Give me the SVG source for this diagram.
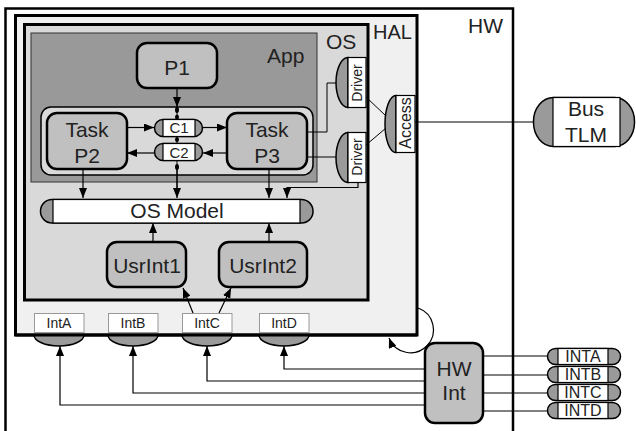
<svg xmlns="http://www.w3.org/2000/svg" width="636" height="431" viewBox="0 0 636 431">
<style>
text{font-family:"Liberation Sans",Arial,sans-serif;fill:#222}
.frame{fill:none;stroke:#000;stroke-width:2.5}
.box{fill:#c0c0c0;stroke:#000;stroke-width:2.5}
.end{fill:#9a9a9a;stroke:#000;stroke-width:1.5}
.mid{fill:#fff;stroke:#000;stroke-width:1.2}
.ln{fill:none;stroke:#000;stroke-width:1}
.lnh{fill:none;stroke:#000;stroke-width:1.2;marker-end:url(#ah)}
.dot{fill:#000}
.c{text-anchor:middle}
</style>
<defs>
<marker id="ah" markerWidth="10" markerHeight="8" refX="10" refY="4" orient="auto" markerUnits="userSpaceOnUse">
<path d="M0,0 L10,4 L0,8 z" fill="#000"/>
</marker>
</defs>
<rect width="636" height="431" fill="#fff"/>

<g id="hw">
<rect x="5.5" y="8.5" width="507.5" height="440" fill="#fff" stroke="#000" stroke-width="2.5"/>
<text x="468" y="33" font-size="21">HW</text>
</g>

<g id="hal">
<rect x="15.5" y="15.5" width="401.5" height="319.5" fill="#f0f0f0" stroke="#000" stroke-width="3"/>
<text x="373" y="39" font-size="20">HAL</text>
</g>

<g id="os">
<rect x="24.5" y="24.5" width="343.5" height="275.5" fill="#d9d9d9" stroke="#000" stroke-width="3"/>
<text x="326" y="49" font-size="21">OS</text>
</g>

<g id="app">
<rect x="31" y="33" width="286" height="149" fill="#999" stroke="#333" stroke-width="1"/>
<text x="267" y="63" font-size="21">App</text>
</g>

<g id="p1">
<rect x="137" y="43" width="80" height="45" rx="10" class="box" stroke-width="2"/>
<text x="177" y="75" font-size="21" class="c">P1</text>
</g>

<g id="tasks">
<rect x="41" y="107" width="272" height="68" rx="10" fill="#d9d9d9" stroke="#000" stroke-width="1.5"/>
</g>

<g id="p2">
<rect x="47" y="113" width="80" height="56" rx="10" class="box" stroke-width="2"/>
<text x="87" y="137" font-size="21" class="c">Task</text>
<text x="87" y="163" font-size="21" class="c">P2</text>
</g>

<g id="p3">
<rect x="227" y="113" width="80" height="56" rx="10" class="box" stroke-width="2"/>
<text x="267" y="137" font-size="21" class="c">Task</text>
<text x="267" y="163" font-size="21" class="c">P3</text>
</g>

<g id="c1">
<rect x="154.5" y="119.5" width="48" height="17" rx="8.5" class="end"/>
<rect x="163" y="119.5" width="32" height="17" class="mid"/>
<text x="179" y="133" font-size="15" class="c">C1</text>
</g>

<g id="c2">
<rect x="154.5" y="143.5" width="48" height="17" rx="8.5" class="end"/>
<rect x="163" y="143.5" width="32" height="17" class="mid"/>
<text x="179" y="158" font-size="15" class="c">C2</text>
</g>

<g id="osmodel">
<rect x="40.5" y="199.5" width="272.5" height="23.5" rx="11.5" class="end"/>
<rect x="53" y="199.5" width="247" height="23.5" class="mid"/>
<text x="177" y="218" font-size="21" class="c">OS Model</text>
</g>

<g id="usrint1">
<rect x="107" y="242" width="79" height="45" rx="10" class="box"/>
<text x="147" y="273" font-size="21" class="c">UsrInt1</text>
</g>

<g id="usrint2">
<rect x="219" y="242" width="88" height="45" rx="10" class="box"/>
<text x="263" y="273" font-size="21" class="c">UsrInt2</text>
</g>

<g id="driver1">
<path d="M348,57.5 A12,25 0 0 0 348,107.5 Z" class="end"/>
<rect x="348" y="57.5" width="18" height="50" class="mid"/>
<text transform="translate(362,83) rotate(-90)" font-size="14" class="c">Driver</text>
</g>

<g id="driver2">
<path d="M348,132.5 A12,25 0 0 0 348,182.5 Z" class="end"/>
<rect x="348" y="132.5" width="18" height="50" class="mid"/>
<text transform="translate(362,157) rotate(-90)" font-size="14" class="c">Driver</text>
</g>

<g id="access">
<path d="M396,95.5 A11,28.5 0 0 0 396,152.5 Z" class="end"/>
<rect x="396" y="95.5" width="19" height="57" class="mid"/>
<text transform="translate(411,123) rotate(-90)" font-size="16" class="c">Access</text>
</g>

<g id="bustlm">
<rect x="533.5" y="97.5" width="101" height="49" rx="20" ry="24" class="end"/>
<rect x="553" y="97.5" width="67" height="49" class="mid"/>
<text x="586" y="116" font-size="21" class="c">Bus</text>
<text x="586" y="142" font-size="21" class="c">TLM</text>
</g>

<g id="intA">
<path d="M34,335 A25,11 0 0 0 84,335 Z" class="end"/>
<rect x="34.5" y="313.5" width="49.5" height="19" fill="#fff" stroke="#999" stroke-width="1"/>
<text x="59" y="328" font-size="14" class="c">IntA</text>
</g>
<g id="intB">
<path d="M108,335 A25,11 0 0 0 158,335 Z" class="end"/>
<rect x="108.5" y="313.5" width="49.5" height="19" fill="#fff" stroke="#999" stroke-width="1"/>
<text x="133" y="328" font-size="14" class="c">IntB</text>
</g>
<g id="intC">
<path d="M182,335 A25,11 0 0 0 232,335 Z" class="end"/>
<rect x="182.5" y="313.5" width="49.5" height="19" fill="#fff" stroke="#999" stroke-width="1"/>
<text x="207" y="328" font-size="14" class="c">IntC</text>
</g>
<g id="intD">
<path d="M259,335 A25,11 0 0 0 309,335 Z" class="end"/>
<rect x="259.5" y="313.5" width="49.5" height="19" fill="#fff" stroke="#999" stroke-width="1"/>
<text x="284" y="328" font-size="14" class="c">IntD</text>
</g>

<line x1="15.5" y1="335" x2="417" y2="335" stroke="#000" stroke-width="3"/>

<g id="hwint">
<rect x="425" y="343" width="58" height="80" rx="10" class="box"/>
<text x="454" y="376" font-size="21" class="c">HW</text>
<text x="454" y="400" font-size="21" class="c">Int</text>
</g>

<g id="intA_hw">
<rect x="547.5" y="348.5" width="73" height="16" rx="8" class="end"/>
<rect x="558" y="348.5" width="50" height="16" class="mid"/>
<text x="583" y="362" font-size="16" class="c">INTA</text>
</g>
<g id="intB_hw">
<rect x="547.5" y="366.5" width="73" height="16" rx="8" class="end"/>
<rect x="558" y="366.5" width="50" height="16" class="mid"/>
<text x="583" y="380" font-size="16" class="c">INTB</text>
</g>
<g id="intC_hw">
<rect x="547.5" y="384.5" width="73" height="16" rx="8" class="end"/>
<rect x="558" y="384.5" width="50" height="16" class="mid"/>
<text x="583" y="398" font-size="16" class="c">INTC</text>
</g>
<g id="intD_hw">
<rect x="547.5" y="402.5" width="73" height="16" rx="8" class="end"/>
<rect x="558" y="402.5" width="50" height="16" class="mid"/>
<text x="583" y="416" font-size="16" class="c">INTD</text>
</g>

<g id="connectors">
<path class="lnh" d="M177,88 V107"/>
<path class="ln" d="M177,107 V120 M177,136 V144 M177,160 V190"/>
<path class="lnh" d="M177,168 V198"/>
<ellipse class="dot" cx="177" cy="110" rx="2" ry="3"/>
<ellipse class="dot" cx="177" cy="117" rx="2" ry="2.5"/>
<ellipse class="dot" cx="177" cy="139.5" rx="2" ry="2.5"/>
<ellipse class="dot" cx="177" cy="167" rx="2" ry="3"/>
<path class="lnh" d="M127,127.5 H154"/>
<path class="lnh" d="M203,127.5 H227"/>
<path class="lnh" d="M227,153 H203"/>
<path class="lnh" d="M154,153 H127"/>
<path class="lnh" d="M83,169 V198"/>
<path class="lnh" d="M269,169 V198"/>
<path class="lnh" d="M358,182.5 V187.5 H287 V198"/>
<path class="ln" d="M307,132 H327 V83 H336"/>
<path class="ln" d="M307,157 H336"/>
<path class="ln" d="M366,97 L386,116 M366,145 L386,128"/>
<path class="ln" d="M415,122 H533"/>
<path class="lnh" d="M153,242 V223"/>
<path class="lnh" d="M269,242 V223"/>
<path class="lnh" d="M193,313 L183,288"/>
<path class="lnh" d="M219,313 L231,288"/>
<path class="lnh" d="M425,369 H284 V346"/>
<path class="lnh" d="M425,381 H207 V346"/>
<path class="lnh" d="M425,393 H133 V346"/>
<path class="lnh" d="M425,405 H60 V346"/>
<path class="ln" d="M483,356 H547 M483,375 H547 M483,393 H547 M483,411 H547"/>
<path class="lnh" d="M418,308 A23,23 0 1 1 389,338"/>
</g>
</svg>
